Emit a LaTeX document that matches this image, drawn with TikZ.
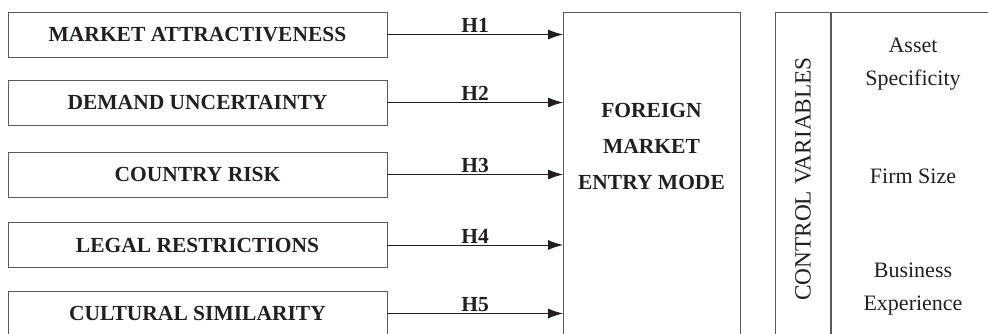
\documentclass[tikz,border=0pt]{standalone}
\usepackage{fontspec}
\setmainfont{Liberation Serif}
\usetikzlibrary{arrows.meta,positioning}
\definecolor{boxline}{HTML}{5A5A5A}
\definecolor{inkdark}{HTML}{231F20}

\begin{document}
\begin{tikzpicture}[x=1pt,y=-1pt,
            factor/.style={draw=boxline,line width=0.8pt,minimum width=379pt,minimum height=45pt,inner sep=0pt,text=inkdark,font=\fontsize{21.5}{23}\selectfont\bfseries},
            tallbox/.style={draw=boxline,line width=0.8pt,minimum height=400pt,inner sep=0pt,anchor=north west},
            hyp/.style={draw=inkdark,line width=0.8pt,-{Latex[length=15pt,width=10pt]}},
            hlabel/.style={above,inner sep=1.5pt,text=inkdark,font=\fontsize{21.5}{23}\selectfont\bfseries},
            cvar/.style={align=center,text=inkdark,font=\fontsize{22}{33}\selectfont}]
            \useasboundingbox (0,0) rectangle (988,333);
            \clip (0,0) rectangle (988,333);

            \node[factor] (ma) at (197.5,34.5){MARKET ATTRACTIVENESS};
            \node[factor] (du) at (197.5,102.5){DEMAND UNCERTAINTY};
            \node[factor] (cr) at (197.5,174.5){COUNTRY RISK};
            \node[factor] (lr) at (197.5,245){LEGAL RESTRICTIONS};
            \node[factor] (cs) at (197.5,313.5){CULTURAL SIMILARITY};

            \node[tallbox,minimum width=177pt] (fme) at (563,12){};
            \node[align=center,text=inkdark,font=\fontsize{21.5}{36}\selectfont\bfseries] (fmetext) at (651.5,146){FOREIGN\\MARKET\\ENTRY MODE};

            \draw[hyp] (ma.east) -- (ma.east -| fme.west) node[hlabel,midway]{H1};
            \draw[hyp] (du.east) -- (du.east -| fme.west) node[hlabel,midway]{H2};
            \draw[hyp] (cr.east) -- (cr.east -| fme.west) node[hlabel,midway]{H3};
            \draw[hyp] (lr.east) -- (lr.east -| fme.west) node[hlabel,midway]{H4};
            \draw[hyp] (cs.east) -- (cs.east -| fme.west) node[hlabel,midway]{H5};

            \node[tallbox,minimum width=55pt] (ctrl) at (775,12){};
            \node[rotate=90,text=inkdark,font=\fontsize{23.3}{25}\selectfont] (ctrltext) at (803,179){CONTROL VARIABLES};
            \node[tallbox,minimum width=300pt] (cvlist) at (ctrl.north east){};

            \node[cvar] (as) at (913,64){Asset\\Specificity};
            \node[cvar] (fs) at (913,176){Firm Size};
            \node[cvar] (be) at (913,289){Business\\Experience};
\end{tikzpicture}
\end{document}
